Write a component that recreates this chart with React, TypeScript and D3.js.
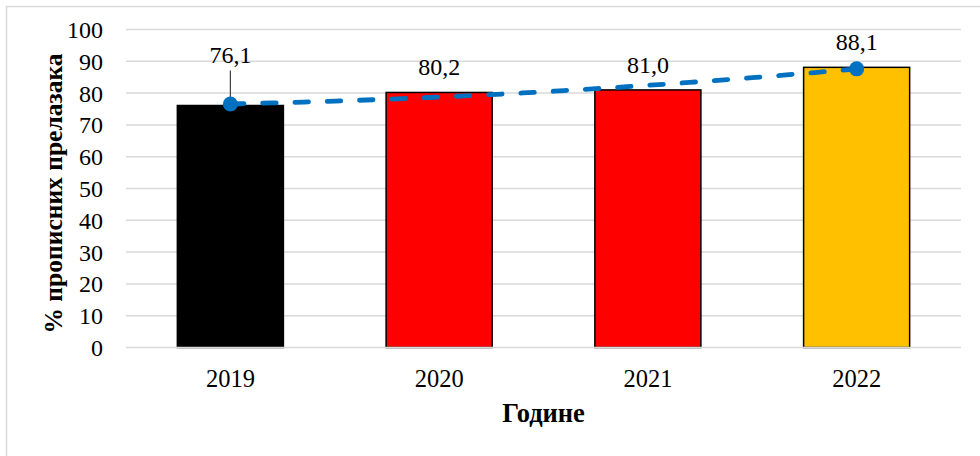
import React from "react";
import * as d3 from "d3";

const categories = ["2019", "2020", "2021", "2022"];
const values = [76.1, 80.2, 81.0, 88.1];
const barColors = ["#000000", "#FF0000", "#FF0000", "#FFC000"];
const yTicks = [0, 10, 20, 30, 40, 50, 60, 70, 80, 90, 100];
const yTitle = "% прописних прелазака";
const xTitle = "Године";

const W = 980;
const H = 456;
const FONT = "'Liberation Serif', 'Times New Roman', serif";

// least-squares quadratic fit (Excel polynomial trendline, order 2)
function quadFit(ys: number[]) {
  const xs = ys.map((_, i) => i);
  const S = (f: (x: number, y: number) => number) =>
    xs.reduce((s, x, i) => s + f(x, ys[i]), 0);
  const n = xs.length;
  const sx = S((x) => x), sx2 = S((x) => x * x), sx3 = S((x) => x ** 3), sx4 = S((x) => x ** 4);
  const sy = S((_, y) => y), sxy = S((x, y) => x * y), sx2y = S((x, y) => x * x * y);
  const M = [
    [n, sx, sx2, sy],
    [sx, sx2, sx3, sxy],
    [sx2, sx3, sx4, sx2y],
  ];
  for (let c = 0; c < 3; c++) {
    for (let r = c + 1; r < 3; r++) {
      const f = M[r][c] / M[c][c];
      for (let k = c; k < 4; k++) M[r][k] -= f * M[c][k];
    }
  }
  const b = [0, 0, 0];
  for (let r = 2; r >= 0; r--) {
    let s = M[r][3];
    for (let k = r + 1; k < 3; k++) s -= M[r][k] * b[k];
    b[r] = s / M[r][r];
  }
  return (x: number) => b[0] + b[1] * x + b[2] * x * x;
}

const fmt = (v: number) => d3.format(".1f")(v).replace(".", ",");

export default function App() {
  const plotLeft = 126;
  const plotRight = 961;
  const plotTop = 29.5;
  const plotBottom = 347.5;

  const x = d3
    .scaleBand<string>()
    .domain(categories)
    .range([plotLeft, plotRight])
    .paddingInner(0.492)
    .paddingOuter(0.246);
  const y = d3.scaleLinear().domain([0, 100]).range([plotBottom, plotTop]);
  const bw = x.bandwidth();
  const step = x.step();
  const cx = (i: number) => (x(categories[i]) as number) + bw / 2;

  const trend = quadFit(values);
  const tPts: [number, number][] = d3
    .range(0, 3.0001, 0.05)
    .map((t) => [cx(0) + t * step, y(trend(t))]);
  const line = d3.line<[number, number]>().curve(d3.curveLinear)(tPts) || "";
  const last = values.length - 1;

  return (
    <svg
      width={W}
      height={H}
      style={{ position: "absolute", left: 0, top: 0, background: "#fff" }}
      fontFamily={FONT}
    >
      <rect x={0} y={0} width={W} height={H} fill="#fff" />
      <rect x={6.5} y={6.5} width={W + 20} height={H + 20} fill="none" stroke="#D9D9D9" strokeWidth={1.5} />

      {yTicks.map((t) => (
        <g key={t}>
          {t !== 0 && (
            <line x1={plotLeft} x2={plotRight} y1={y(t)} y2={y(t)} stroke="#D9D9D9" strokeWidth={1.5} />
          )}
          <text x={103} y={y(t)} dy="0.35em" textAnchor="end" fontSize={24} fill="#000">
            {t}
          </text>
        </g>
      ))}

      {values.map((v, i) => (
        <rect
          key={i}
          x={x(categories[i])}
          y={y(v)}
          width={bw}
          height={y(0) - y(v)}
          fill={barColors[i]}
          stroke="#000"
          strokeWidth={1.5}
        />
      ))}

      <line x1={plotLeft} x2={plotRight} y1={y(0)} y2={y(0)} stroke="#D9D9D9" strokeWidth={1.5} />

      {values.map((v, i) => {
        const lifted = i === 0;
        const base = lifted ? y(v) - 43 : y(v) - 17;
        return (
          <g key={i}>
            {lifted && (
              <line x1={cx(i)} x2={cx(i)} y1={base + 8} y2={y(v)} stroke="#404040" strokeWidth={1.2} />
            )}
            <text x={cx(i)} y={base} textAnchor="middle" fontSize={24} fill="#000">
              {fmt(v)}
            </text>
          </g>
        );
      })}

      <path
        d={line}
        fill="none"
        stroke="#0070C0"
        strokeWidth={4.8}
        strokeDasharray="13.5 18.8"
        strokeLinecap="round"
      />
      <circle cx={cx(0)} cy={y(trend(0))} r={7.5} fill="#0070C0" />
      <circle cx={cx(last)} cy={y(trend(last))} r={7.5} fill="#0070C0" />

      {categories.map((c, i) => (
        <text key={c} x={cx(i)} y={387} textAnchor="middle" fontSize={24.5} fill="#000">
          {c}
        </text>
      ))}

      <text
        x={(plotLeft + plotRight) / 2}
        y={422}
        textAnchor="middle"
        fontSize={26.5}
        fontWeight="bold"
        fill="#000"
      >
        {xTitle}
      </text>
      <text
        transform={`translate(62, ${(plotTop + plotBottom) / 2 + 5}) rotate(-90)`}
        textAnchor="middle"
        fontSize={25.5}
        fontWeight="bold"
        fill="#000"
      >
        {yTitle}
      </text>
    </svg>
  );
}
